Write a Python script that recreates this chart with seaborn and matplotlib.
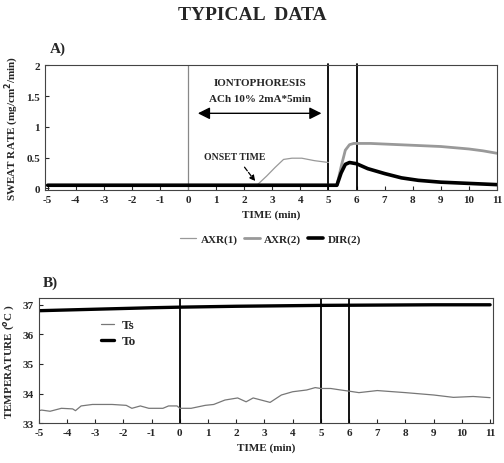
import numpy as np
import pandas as pd
import matplotlib
matplotlib.use("Agg")
import matplotlib.pyplot as plt
import seaborn as sns

# ---- data ----
t_axr1 = [-5, -4, -3, -2, -1, 0, 1, 2, 2.45, 2.8, 3.1, 3.4, 3.7, 4.05, 4.5, 5.0]
axr1 = [0.05, 0.05, 0.05, 0.05, 0.05, 0.05, 0.05, 0.05, 0.05, 0.2, 0.34, 0.47, 0.49, 0.49, 0.45, 0.42]

t_axr2 = [-5, -3, -1, 1, 3, 5, 5.3, 5.45, 5.6, 5.75, 5.9, 6.5, 7, 8, 9, 10, 10.5, 11]
axr2 = [0.05, 0.05, 0.05, 0.05, 0.05, 0.05, 0.05, 0.35, 0.62, 0.71, 0.73, 0.73, 0.72, 0.70, 0.68, 0.64, 0.61, 0.57]

t_dir2 = [-5, -3, -1, 1, 3, 5, 5.3, 5.45, 5.6, 5.75, 6.0, 6.4, 7.0, 7.6, 8.2, 9.0, 10.0, 11.0]
dir2 = [0.05, 0.05, 0.05, 0.05, 0.05, 0.05, 0.05, 0.25, 0.39, 0.42, 0.40, 0.32, 0.24, 0.17, 0.13, 0.10, 0.08, 0.06]

t_ts = [-5, -4.9, -4.6, -4.2, -3.8, -3.7, -3.5, -3.1, -2.4, -1.9, -1.7, -1.4, -1.1, -0.6,
        -0.4, -0.1, 0, 0.4, 0.9, 1.2, 1.6, 2.05, 2.35, 2.6, 3.0, 3.2, 3.6, 4.0, 4.5, 4.8,
        5.0, 5.35, 5.7, 6.0, 6.35, 7.0, 8.0, 9.0, 9.7, 10.4, 11.0]
ts = [33.42, 33.44, 33.4, 33.5, 33.48, 33.42, 33.58, 33.63, 33.63, 33.6, 33.5, 33.58, 33.5, 33.5,
      33.58, 33.58, 33.5, 33.5, 33.6, 33.63, 33.78, 33.85, 33.72, 33.85, 33.75, 33.7, 33.95, 34.06, 34.12, 34.2,
      34.17, 34.17, 34.12, 34.08, 34.03, 34.1, 34.03, 33.95, 33.87, 33.9, 33.86]

t_to = [-5, -3, -1, 0, 2, 4, 5, 7, 9, 11]
to = [36.8, 36.85, 36.9, 36.92, 36.95, 36.97, 36.98, 36.99, 37.0, 37.0]

xticks = list(range(-5, 12))

sns.set_style("ticks")
plt.rcParams['font.family'] = ['Liberation Serif', 'DejaVu Serif']
plt.rcParams['font.weight'] = 'bold'
plt.rcParams['axes.labelweight'] = 'bold'
plt.rcParams['axes.unicode_minus'] = False

fig = plt.figure(figsize=(5.04, 4.64), dpi=100)
ax1 = fig.add_axes([0.089, 0.588, 0.897, 0.269])
ax2 = fig.add_axes([0.077, 0.086, 0.901, 0.269])

fig.text(0.5, 0.967, "TYPICAL  DATA", ha="center", va="center", fontsize=14, fontweight="bold")
fig.text(0.115, 0.893, "A)", ha="center", va="center", fontsize=11, fontweight="bold")
fig.text(0.100, 0.390, "B)", ha="center", va="center", fontsize=11, fontweight="bold")

# ---- panel A ----
ax1.axvline(0, color="#888888", lw=0.9)
for v in (5, 6):
    ax1.axvline(v, color="black", lw=1.3, ymax=1.01, clip_on=False)
sns.lineplot(x=t_axr1, y=axr1, ax=ax1, color="#999999", lw=0.9, label="AXR(1)")
sns.lineplot(x=t_axr2, y=axr2, ax=ax1, color="#999999", lw=2.0, label="AXR(2)")
sns.lineplot(x=t_dir2, y=dir2, ax=ax1, color="black", lw=2.6, label="DIR(2)")
ax1.set_xlim(-5.1, 11)
ax1.set_ylim(-0.03, 2)
ax1.set_xticks(xticks)
ax1.set_yticks([0, 0.5, 1, 1.5, 2])
ax1.set_yticklabels(["0", "0.5", "1", "1.5", "2"])
ax1.set_xlabel("TIME (min)", fontsize=8, labelpad=4)
ax1.set_ylabel("SWEAT RATE (mg/cm$^2$/min)", fontsize=8)
ax1.text(2.55, 1.68, "IONTOPHORESIS", ha="center", fontsize=8, fontweight="bold")
ax1.text(2.55, 1.42, "ACh 10% 2mA*5min", ha="center", fontsize=8, fontweight="bold")
ax1.annotate("", xy=(0.25, 1.22), xytext=(4.85, 1.22),
             arrowprops=dict(arrowstyle="<|-|>", color="black", lw=1.0, mutation_scale=18))
ax1.text(1.65, 0.48, "ONSET TIME", ha="center", fontsize=7, fontweight="bold")
ax1.annotate("", xy=(2.45, 0.08), xytext=(1.95, 0.38),
             arrowprops=dict(arrowstyle="-|>", color="black", lw=0.9, ls="--", mutation_scale=8))
ax1.legend(loc="upper center", bbox_to_anchor=(0.5, -0.27), ncol=3, frameon=False,
           fontsize=8, handlelength=1.4, columnspacing=0.6, handletextpad=0.4)

# ---- panel B ----
for v in (0, 5, 6):
    ax2.axvline(v, color="black", lw=1.3)
sns.lineplot(x=t_ts, y=ts, ax=ax2, color="#777777", lw=0.9, label="Ts")
sns.lineplot(x=t_to, y=to, ax=ax2, color="black", lw=2.4, label="To")
ax2.set_xlim(-5, 11.1)
ax2.set_ylim(33, 37.22)
ax2.set_xticks(xticks)
ax2.set_yticks([33, 34, 35, 36, 37])
ax2.set_xlabel("TIME (min)", fontsize=8, labelpad=4)
ax2.set_ylabel("TEMPERATURE ($^o$C )", fontsize=8)
ax2.legend(loc="upper left", bbox_to_anchor=(0.11, 0.93), frameon=False, fontsize=9.5,
           handlelength=1.0, handletextpad=0.6, labelspacing=0.3)

for ax in (ax1, ax2):
    ax.tick_params(direction="in", labelsize=8, length=3, width=0.8)
    for lab in ax.get_xticklabels() + ax.get_yticklabels():
        lab.set_fontweight("bold")
    for s in ax.spines.values():
        s.set_linewidth(0.8)
        s.set_color("#444444")

fig.savefig("out.png", dpi=100)
